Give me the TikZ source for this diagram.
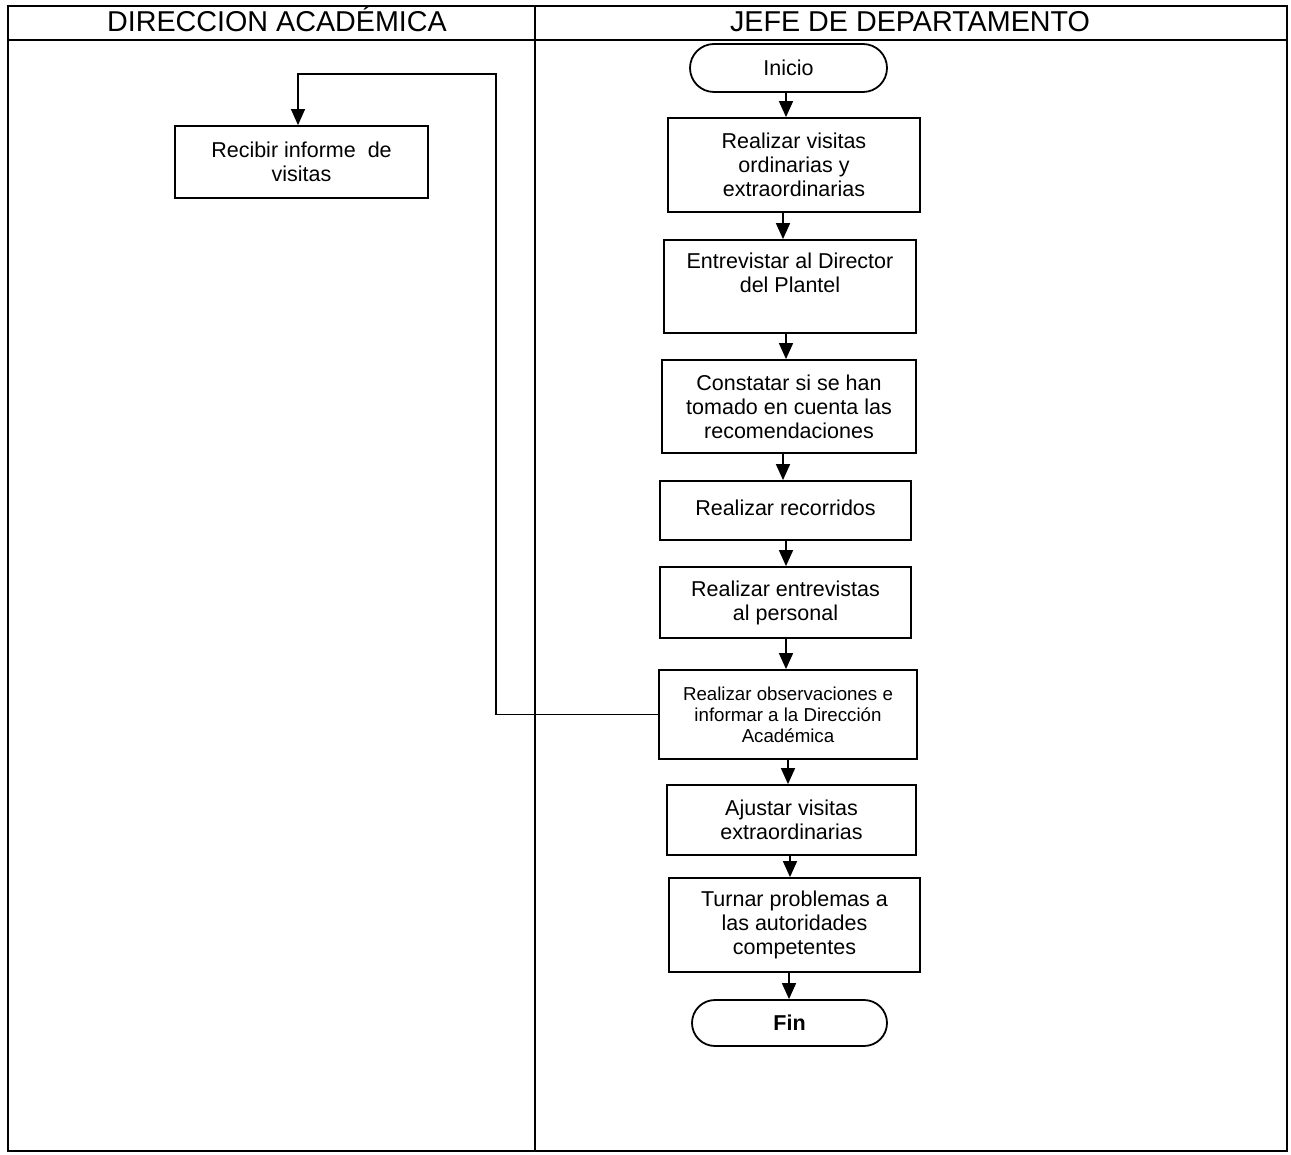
\documentclass[tikz,border=0pt]{standalone}
\usepackage{fontspec}
\setmainfont{Liberation Sans}
\usetikzlibrary{arrows.meta,shapes.misc}
\begin{document}
\begin{tikzpicture}[x=1pt,y=-1pt,
  box/.style={draw,line width=1.8pt,align=center,inner sep=0pt,
    font=\fontsize{21.5}{24}\selectfont},
  smallbox/.style={box,font=\fontsize{18.7}{21}\selectfont},
  term/.style={draw,line width=1.8pt,rounded rectangle,inner sep=0pt,
    font=\fontsize{21.5}{24}\selectfont},
  arr/.style={line width=1.6pt,-{Triangle[width=14pt,length=16pt]}},
  link/.style={line width=1.2pt,-{Triangle[width=14pt,length=16pt]}},
  frame/.style={line width=1.5pt},
  head/.style={anchor=base,font=\fontsize{28.7}{30}\selectfont}]
\useasboundingbox (0,0) rectangle (1291,1155);

% swimlane frame
\draw[frame] (8,6) rectangle (1287,1151);
\draw[frame] (8,40) -- (1287,40);
\draw[frame] (535,6) -- (535,1151);
\node[head] (h1) at (277,32) {DIRECCION ACADÉMICA};
\node[head] (h2) at (910,32) {JEFE DE DEPARTAMENTO};

% left lane
\node[box,minimum width=253pt,minimum height=72pt] (rec) at (301.5,162)
  {Recibir informe\ \ de\\visitas};

% right lane
\node[term,minimum width=197pt,minimum height=48pt] (ini) at (788.5,68) {Inicio};
\node[box,minimum width=252pt,minimum height=94pt] (b1) at (794,165)
  {Realizar visitas\\ordinarias y\\extraordinarias};
\node[box,minimum width=252pt,minimum height=93pt] (b2) at (790,286.5)
  {\rule{0pt}{20pt}Entrevistar al Director\\del Plantel\\\strut};
\node[box,minimum width=254pt,minimum height=93pt] (b3) at (789,406.5)
  {Constatar si se han\\tomado en cuenta las\\recomendaciones};
\node[box,minimum width=251pt,minimum height=59pt] (b4) at (785.5,510.5)
  {\raisebox{6pt}{Realizar recorridos}};
\node[box,minimum width=251pt,minimum height=71pt] (b5) at (785.5,602.5)
  {Realizar entrevistas\\al personal};
\node[smallbox,minimum width=258pt,minimum height=89pt] (b6) at (788,714.5)
  {Realizar observaciones e\\informar a la Dirección\\Académica};
\node[box,minimum width=249pt,minimum height=70pt] (b7) at (791.5,820)
  {Ajustar visitas\\extraordinarias};
\node[box,minimum width=251pt,minimum height=94pt] (b8) at (794.5,925)
  {Turnar problemas a\\las autoridades\\competentes};
\node[term,minimum width=195pt,minimum height=46pt,font=\fontsize{21.5}{24}\selectfont\bfseries]
  (fin) at (789.5,1023) {Fin};

% arrow columns
\coordinate (c1) at (786,0);
\coordinate (c2) at (783,0);
\coordinate (c3) at (786,0);
\coordinate (c4) at (783,0);
\coordinate (c5) at (786,0);
\coordinate (c6) at (786,0);
\coordinate (c7) at (788,0);
\coordinate (c8) at (790,0);
\coordinate (c9) at (789,0);

\draw[arr] (ini.south -| c1) -- (b1.north -| c1);
\draw[arr] (b1.south -| c2) -- (b2.north -| c2);
\draw[arr] (b2.south -| c3) -- (b3.north -| c3);
\draw[arr] (b3.south -| c4) -- (b4.north -| c4);
\draw[arr] (b4.south -| c5) -- (b5.north -| c5);
\draw[arr] (b5.south -| c6) -- (b6.north -| c6);
\draw[arr] (b6.south -| c7) -- (b7.north -| c7);
\draw[arr] (b7.south -| c8) -- (b8.north -| c8);
\draw[arr] (b8.south -| c9) -- (fin.north -| c9);

% report sent back to the academic direction
\coordinate (t1) at (496,74);
\coordinate (t2) at (298,74);
\draw[link] (b6.west) -- (b6.west -| t1) -- (t1) -- (t2) -- (t2 |- rec.north);
\end{tikzpicture}
\end{document}
